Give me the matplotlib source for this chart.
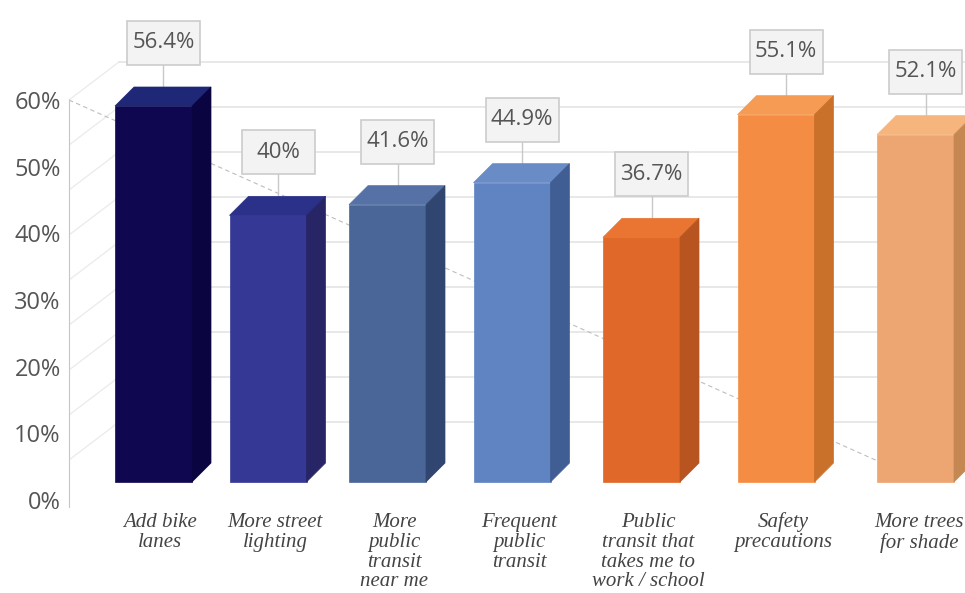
import numpy as np
import matplotlib
matplotlib.use('Agg')
import matplotlib.pyplot as plt
from matplotlib.patches import Polygon, Rectangle
from matplotlib.transforms import IdentityTransform, ScaledTranslation

# survey answers
categories = ["Add bike\nlanes", "More street\nlighting", "More\npublic\ntransit\nnear me",
              "Frequent\npublic\ntransit", "Public\ntransit that\ntakes me to\nwork / school",
              "Safety\nprecautions", "More trees\nfor shade"]
values = [56.4, 40, 41.6, 44.9, 36.7, 55.1, 52.1]
y_ticks = [0, 10, 20, 30, 40, 50, 60]

front_colors = ['#0f0850', '#353995', '#4a6699', '#6083c2', '#e0692a', '#f48d43', '#eda672']
top_colors = ['#1f2877', '#2b3089', '#5571a5', '#6a8cc6', '#ea7431', '#f69b53', '#f6b57d']
side_colors = ['#0a0440', '#272566', '#30456f', '#405e93', '#b85420', '#c9702a', '#c68852']


# bars spread out a little towards the right (perspective)
def persp(i):
    i = np.asarray(i, dtype=float)
    return 112 * i + 2.5 * i ** 2


def persp_inv(u):
    u = np.asarray(u, dtype=float)
    return (-112 + np.sqrt(np.maximum(112 ** 2 + 10 * u, 0))) / 5


W, H = 965, 593
fig = plt.figure(figsize=(W / 100, H / 100), dpi=100)
ax = fig.add_axes([69 / W, (H - 507) / H, (W - 69) / W, 507 / H])
ax.set_xscale('function', functions=(persp, persp_inv))
ax.set_xlim(persp_inv(-84.5), persp_inv(811.5))
ax.set_ylim(-1.05, 75)

disp = IdentityTransform()
x0, x1 = ax.get_xlim()

# walls: side wall diagonals + back wall lines
for lvl in np.arange(60, 0, -6.75):
    fx, fy = ax.transData.transform((x0, lvl))
    bx, by = fx + 50, fy + 38
    ax.plot([fx, bx], [fy, by], transform=disp, color='#ececec', lw=1, zorder=0)
    ax.plot([bx, W], [by, by], transform=disp, color='#e6e6e6', lw=1.3, zorder=0)

# dashed diagonal, ends behind the last bar
p0 = ax.transData.transform((x0, 60))
p1 = ax.transData.transform((x1, 0))
xe = ax.transData.transform((len(values) - 1, 0))[0]
t = (xe - p0[0]) / (p1[0] - p0[0])
pe = p0 + t * (p1 - p0)
ax.plot([p0[0], pe[0]], [p0[1], pe[1]], transform=disp, ls=(0, (4, 3)),
        color='#bdbdbd', lw=0.8, zorder=0.5)

LIFT = 18
HALF = 38.5
DEPTH = 19
for i, v in enumerate(values):
    cx, y0 = ax.transData.transform((i, 0))
    _, y1 = ax.transData.transform((i, v))
    y0 += LIFT
    y1 += LIFT
    l, r = cx - HALF, cx + HALF
    front = [(l, y0), (r, y0), (r, y1), (l, y1)]
    top = [(l, y1), (r, y1), (r + DEPTH, y1 + DEPTH), (l + DEPTH, y1 + DEPTH)]
    side = [(r, y0), (r + DEPTH, y0 + DEPTH), (r + DEPTH, y1 + DEPTH), (r, y1)]
    for pts, c in [(front, front_colors[i]), (top, top_colors[i]), (side, side_colors[i])]:
        ax.add_patch(Polygon(pts, closed=True, transform=disp, fc=c, ec=c, lw=0.5, zorder=3))

    # value box with leader line
    bxc = cx + 10
    box_bottom = y1 + DEPTH + 22
    ax.plot([bxc, bxc], [y1 + DEPTH / 2, box_bottom], transform=disp, color='#c8c8c8', lw=1, zorder=1)
    ax.add_patch(Rectangle((bxc - 36.5, box_bottom), 73, 44, transform=disp,
                           fc='#f3f3f3', ec='#cccccc', lw=1.2, zorder=4))
    ax.text(bxc, box_bottom + 22, f'{v:g}%', transform=disp, ha='center', va='center',
            fontsize=16, family='Open Sans', color='#555555', zorder=5)

ax.set_yticks(y_ticks, [f'{t}%' for t in y_ticks])
ax.tick_params(axis='y', length=0, pad=6, labelsize=17, labelcolor='#555555')
for lab in ax.get_yticklabels():
    lab.set_family('Open Sans')

ax.set_xticks(range(len(categories)), categories)
ax.tick_params(axis='x', length=0, pad=4)
for lab in ax.get_xticklabels():
    lab.set_family('Liberation Serif')
    lab.set_style('italic')
    lab.set_fontsize(15)
    lab.set_color('#444444')
    lab.set_linespacing(1.07)

for s in ['top', 'right', 'bottom']:
    ax.spines[s].set_visible(False)
ax.spines['left'].set_color('#c6c6c6')
ax.spines['left'].set_bounds(-1.05, 60)

# nudge category labels right a bit, but keep them inside the figure
fig.canvas.draw()
renderer = fig.canvas.get_renderer()
for lab in ax.get_xticklabels():
    ext = lab.get_window_extent(renderer)
    shift = min(5, W - 2 - ext.x1)
    lab.set_transform(lab.get_transform() + ScaledTranslation(shift / 72, 0, fig.dpi_scale_trans))

fig.savefig('out.png', dpi=100)
